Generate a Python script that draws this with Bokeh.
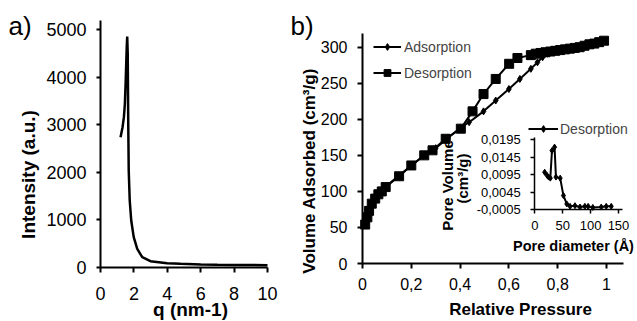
import math
from bokeh.plotting import figure
from bokeh.models import Range1d, LinearAxis, FixedTicker, Label, Legend, LegendItem
from bokeh.embed import file_html
from bokeh.resources import INLINE

# ---------------- data ----------------
# a) SAXS curve
saxs_q = [1.20, 1.32, 1.40, 1.46, 1.51, 1.57, 1.60, 1.63, 1.66, 1.69, 1.75, 1.84,
          1.99, 2.20, 2.50, 2.99, 3.99, 4.79, 6.0, 7.0, 8.0, 9.0, 10.0]
saxs_intensity = [2737, 2947, 3158, 3439, 3929, 4628, 4853, 4496, 3088, 2038, 1408, 987,
                  637, 393, 216, 132, 90, 78, 64, 58, 54, 51, 49]
saxs_xticks = [0, 2, 4, 6, 8, 10]
saxs_yticks = [0, 1000, 2000, 3000, 4000, 5000]

# b) N2 isotherm
ads_p = [0.005, 0.01, 0.02, 0.03, 0.04, 0.05, 0.06, 0.07, 0.08, 0.09, 0.10, 0.15, 0.20,
         0.25, 0.30, 0.35, 0.40, 0.437, 0.496, 0.546, 0.60, 0.645, 0.69, 0.717, 0.738,
         0.758, 0.78, 0.80, 0.82, 0.84, 0.86, 0.88, 0.90, 0.92, 0.94, 0.96, 0.98, 0.99]
ads_v = [55, 62, 70, 78, 85, 90, 95, 99, 102, 105, 108, 122, 136,
         149, 160, 174, 188, 196, 211, 226, 242, 256, 270, 279, 286,
         291, 294, 296, 297, 298, 299, 300, 302, 303, 305, 306, 308, 309]
des_p = [0.99, 0.97, 0.95, 0.93, 0.91, 0.89, 0.87, 0.85, 0.83, 0.81, 0.79, 0.77, 0.75,
         0.73, 0.71, 0.69, 0.635, 0.601, 0.546, 0.496, 0.451, 0.403, 0.341, 0.287, 0.253,
         0.20, 0.15, 0.095, 0.079, 0.065, 0.052, 0.038, 0.027, 0.02, 0.011]
des_v = [309, 307, 305, 304, 302, 300, 299, 298, 297, 296, 295, 294, 293,
         292, 291, 289, 285, 277, 256, 235, 211, 187, 173, 157, 150,
         136, 121, 106, 100, 96, 90, 83, 73, 64, 54]
iso_xticks = [0, 0.2, 0.4, 0.6, 0.8, 1]
iso_xlabels = ["0", "0,2", "0,4", "0,6", "0,8", "1"]
iso_yticks = [0, 50, 100, 150, 200, 250, 300]

# b) inset: pore size distribution
pore_d = [17.7, 21.9, 24.8, 27.8, 30.8, 35.4, 37.9, 45.5, 51.3, 57.3, 63.2, 72, 81,
          89.7, 95.6, 104, 119, 128, 137]
pore_v = [0.0102, 0.0093, 0.0088, 0.0085, 0.0164, 0.0174, 0.0088, 0.0085, 0.0035,
          0.0011, 0.0004, 0.0006, 0.0002, 0.0004, 0.0004, 0.0001, 0.0002, 0.0004, 0.0004]
pore_xticks = [0, 50, 100, 150]
pore_yticks = [-0.0005, 0.0045, 0.0095, 0.0145, 0.0195]
pore_ylabels = ["-0,0005", "0,0045", "0,0095", "0,0145", "0,0195"]

FONT = "Liberation Sans"
W, H = 637, 321


def span(v0, p0, v1, p1, lo, hi):
    """Range whose values at canvas pixels lo/hi place v0 at p0 and v1 at p1."""
    k = (p1 - p0) / (v1 - v0)
    return Range1d(v0 + (lo - p0) / k, v0 + (hi - p0) / k)


def overrides(ticks, labels):
    d = {}
    for t, l in zip(ticks, labels):
        d[t] = l
        d[str(t)] = l
    return d


def make_axis(xr, yr, loc, bounds, ticks, size, standoff, tick_out=5, width=2, labels=None):
    ax = LinearAxis(x_range_name=xr, y_range_name=yr, fixed_location=loc, bounds=bounds,
                    ticker=FixedTicker(ticks=ticks))
    if labels is not None:
        ax.major_label_overrides = overrides(ticks, labels)
    ax.axis_line_width = width
    ax.axis_line_color = "black"
    ax.major_tick_line_width = width
    ax.major_tick_line_color = "black"
    ax.major_tick_out = tick_out
    ax.major_tick_in = 0
    ax.minor_tick_line_color = None
    ax.major_label_text_font = FONT
    ax.major_label_text_font_size = f"{size}px"
    ax.major_label_text_color = "black"
    ax.major_label_standoff = standoff
    return ax


# one canvas; the default range is the page pixel grid (y downwards) for titles
p = figure(width=W, height=H, x_range=Range1d(0, W), y_range=Range1d(H, 0),
           x_axis_type=None, y_axis_type=None, output_backend="svg",
           toolbar_location=None, min_border=0)
p.min_border_left = p.min_border_right = p.min_border_top = p.min_border_bottom = 0
p.title.visible = False
p.outline_line_color = None
p.background_fill_color = "white"
p.border_fill_color = "white"

p.extra_x_ranges = {
    "ax": span(0, 100, 10, 267, 0, W),
    "bx": span(0, 362, 1, 606, 0, W),
    "cx": span(0, 534.3, 150, 618, 0, W),
}
p.extra_y_ranges = {
    "ay": span(0, 267, 5000, 29, H, 0),
    "by": span(0, 263, 300, 46.7, H, 0),
    "cy": span(-0.0005, 209, 0.0195, 139.3, H, 0),
}

# ---- a) ----
p.add_layout(make_axis("ax", "ay", 0, (0, 10), saxs_xticks, 18, 14), "below")
p.add_layout(make_axis("ax", "ay", 0, (0, 5190), saxs_yticks, 18, 10, tick_out=4), "left")
p.line(saxs_q, saxs_intensity, x_range_name="ax", y_range_name="ay",
       line_color="black", line_width=2.5)

# ---- b) ----
p.add_layout(make_axis("bx", "by", 0, (0, 1.07), iso_xticks, 16, 9, labels=iso_xlabels), "below")
p.add_layout(make_axis("bx", "by", 0, (0, 319), iso_yticks, 16, 10), "left")
a_line = p.line(ads_p, ads_v, x_range_name="bx", y_range_name="by",
                line_color="black", line_width=2)
a_pts = p.scatter(ads_p, ads_v, x_range_name="bx", y_range_name="by",
                  marker="diamond", size=7, color="black")
d_line = p.line(des_p, des_v, x_range_name="bx", y_range_name="by",
                line_color="black", line_width=2)
d_pts = p.scatter(des_p, des_v, x_range_name="bx", y_range_name="by",
                  marker="square", size=9, color="black")

# ---- b) inset ----
p.add_layout(make_axis("cx", "cy", -0.0005, (0, 157), pore_xticks, 13, 7,
                       tick_out=4, width=1.5), "below")
p.add_layout(make_axis("cx", "cy", 0, (-0.0005, 0.0203), pore_yticks, 13, 10,
                       tick_out=4, width=1.5, labels=pore_ylabels), "left")
i_line = p.line(pore_d, pore_v, x_range_name="cx", y_range_name="cy",
                line_color="black", line_width=2)
i_pts = p.scatter(pore_d, pore_v, x_range_name="cx", y_range_name="cy",
                  marker="diamond", size=6, color="black")

leg = Legend(items=[LegendItem(label="Adsorption", renderers=[a_line, a_pts]),
                    LegendItem(label="Desorption", renderers=[d_line, d_pts])],
             location=(373, 240), glyph_width=28, glyph_height=17, label_height=17,
             label_standoff=3, spacing=9, padding=5, margin=0,
             border_line_color=None, background_fill_alpha=0,
             label_text_font=FONT, label_text_font_size="14px")
p.add_layout(leg)
leg2 = Legend(items=[LegendItem(label="Desorption", renderers=[i_line, i_pts])],
              location=(528, 184), glyph_width=30, glyph_height=17, label_height=17,
              label_standoff=2, spacing=0, padding=5, margin=0,
              border_line_color=None, background_fill_alpha=0,
              label_text_font=FONT, label_text_font_size="14px")
p.add_layout(leg2)


# ---- texts (centre positions) ----
def title(x, y, text, size, bold=True, vertical=False, align="center"):
    p.add_layout(Label(x=x, y=y, text=text, text_font=FONT, text_font_size=f"{size}px",
                       text_font_style="bold" if bold else "normal",
                       angle=math.pi / 2 if vertical else 0,
                       text_align=align, text_baseline="middle",
                       text_color="black"))


title(8, 25, "a)", 26, bold=False, align="left")
title(290, 25, "b)", 26, bold=False, align="left")
title(28, 174, "Intensity (a.u.)", 19, vertical=True)
title(190, 309, "q (nm-1)", 19)
title(309, 168, "Volume Adsorbed  (cm³/g)", 17, vertical=True)
title(520, 309, "Relative Pressure", 17)
title(447, 185, "Pore Volume", 15, vertical=True)
title(462, 178, "(cm³/g)", 15, vertical=True)
title(573, 245, "Pore diameter (Å)", 14.5)

open("out.html", "w").write(file_html(p, INLINE))
